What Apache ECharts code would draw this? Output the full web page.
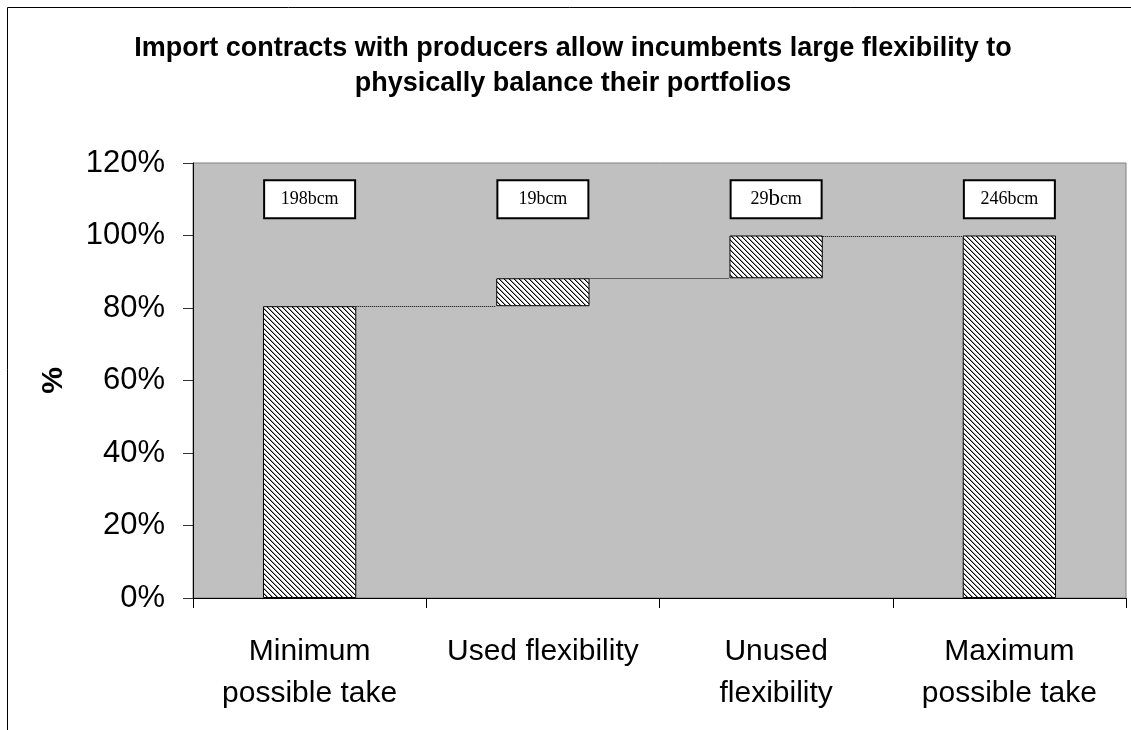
<!DOCTYPE html>
<html>
<head>
<meta charset="utf-8">
<script src="https://cdn.jsdelivr.net/npm/echarts@6/dist/echarts.min.js"></script>
<style>
    html, body { margin: 0; padding: 0; background: #fff; }
    #chart { width: 1131px; height: 730px; }
</style>
</head>
<body>
<div id="chart"></div>
<script>
    // categories and values (share of maximum possible take)
    var categories = ['Minimum\npossible take', 'Used flexibility', 'Unused\nflexibility', 'Maximum\npossible take'];
    var minTake = 0.805;
    var usedFlex = 0.077;
    var unusedFlex = 0.118;
    var maxTake = 1.0;
    var volumes = ['198bcm', '19bcm', '29bcm', '246bcm'];
    var labelLevel = 1.1;
    var yTicks = [0, 0.2, 0.4, 0.6, 0.8, 1.0, 1.2];

    // waterfall: visible heights and invisible bases
    var heights = [minTake, usedFlex, unusedFlex, maxTake];
    var bases = [0, minTake, minTake + usedFlex, 0];
    var tops = heights.map(function (h, i) { return bases[i] + h; });

    // hatch pattern like the old excel fill
    var hatch = document.createElement('canvas');
    hatch.width = 5; hatch.height = 5;
    var ctx = hatch.getContext('2d');
    ctx.fillStyle = '#fff';
    ctx.fillRect(0, 0, 5, 5);
    for (var i = 0; i < 5; i++) {
        ctx.fillStyle = '#000';
        ctx.fillRect(i, i, 1, 1);
        ctx.fillStyle = '#999';
        ctx.fillRect((i + 1) % 5, i, 1, 1);
    }

    var chart = echarts.init(document.getElementById('chart'));
    chart.setOption({
        animation: false,
        backgroundColor: '#fff',
        textStyle: { fontFamily: 'Liberation Sans, Arial, sans-serif' },
        title: {
            text: 'Import contracts with producers allow incumbents large flexibility to\nphysically balance their portfolios',
            left: 573,
            textAlign: 'center',
            top: 31,
            padding: 0,
            textStyle: {
                fontSize: 27,
                fontWeight: 'bold',
                color: '#000',
                lineHeight: 35,
                fontFamily: 'Liberation Sans, Arial, sans-serif'
            }
        },
        graphic: [{
            type: 'rect',
            silent: true,
            shape: { x: 7.5, y: 7.5, width: 1150, height: 760 },
            style: { fill: 'none', stroke: '#000', lineWidth: 1 },
            z: -1
        }],
        grid: {
            left: 193, right: 5, top: 163, bottom: 132,
            show: true,
            backgroundColor: '#c0c0c0',
            borderColor: '#808080',
            borderWidth: 1
        },
        xAxis: {
            type: 'category',
            data: categories,
            axisLine: { lineStyle: { color: '#000', width: 1 } },
            axisTick: { show: true, length: 10, lineStyle: { color: '#000' } },
            axisLabel: {
                margin: 33,
                fontSize: 30,
                lineHeight: 42,
                color: '#000',
                interval: 0
            }
        },
        yAxis: {
            type: 'value',
            min: yTicks[0],
            max: yTicks[yTicks.length - 1],
            interval: 0.2,
            name: '%',
            nameLocation: 'middle',
            nameGap: 124,
            nameTextStyle: { fontSize: 30, fontWeight: 'bold', color: '#000' },
            axisLine: { show: true, lineStyle: { color: '#000', width: 1 } },
            axisTick: { show: true, length: 10, lineStyle: { color: '#333' } },
            splitLine: { show: false },
            axisLabel: {
                margin: 28,
                fontSize: 31,
                color: '#000',
                formatter: function (v) { return Math.round(v * 100) + '%'; }
            }
        },
        series: [
            {
                name: 'base',
                type: 'bar',
                stack: 'w',
                barWidth: '40%',
                silent: true,
                itemStyle: { color: 'transparent' },
                data: bases
            },
            {
                name: 'take',
                type: 'bar',
                stack: 'w',
                barWidth: '40%',
                itemStyle: {
                    color: { image: hatch, repeat: 'repeat' },
                    borderColor: '#000',
                    borderWidth: 1
                },
                data: heights
            },
            {
                name: 'connectors',
                type: 'custom',
                silent: true,
                data: tops.slice(0, 3).map(function (t, i) { return [i, t]; }),
                renderItem: function (params, api) {
                    var idx = api.value(0);
                    var p0 = api.coord([idx, api.value(1)]);
                    var p1 = api.coord([idx + 1, api.value(1)]);
                    var half = api.size([1, 0])[0] * 0.2;
                    var y = Math.round(p0[1]) + 0.5;
                    return {
                        type: 'line',
                        shape: { x1: p0[0] + half, y1: y, x2: p1[0] - half, y2: y },
                        style: { stroke: '#000', lineWidth: 1, lineDash: [1, 1] }
                    };
                }
            },
            {
                name: 'volumes',
                type: 'scatter',
                symbolSize: 0,
                silent: true,
                itemStyle: { opacity: 1 },
                data: volumes.map(function (v, i) { return { value: [i, labelLevel], name: v }; }),
                label: {
                    show: true,
                    position: 'inside',
                    formatter: function (p) {
                        if (p.name === '29bcm') return '{n|29}{big|b}{n|cm}';
                        return '{n|' + p.name + '}';
                    },
                    backgroundColor: '#fff',
                    borderColor: '#000',
                    borderWidth: 2,
                    width: 89,
                    padding: [8, 0],
                    align: 'center',
                    verticalAlign: 'middle',
                    rich: {
                        n: { fontFamily: 'Liberation Serif, Times New Roman, serif', fontSize: 18, lineHeight: 20, color: '#000' },
                        big: { fontFamily: 'Liberation Serif, Times New Roman, serif', fontSize: 23, lineHeight: 20, color: '#000' }
                    }
                }
            }
        ]
    });
</script>
</body>
</html>
